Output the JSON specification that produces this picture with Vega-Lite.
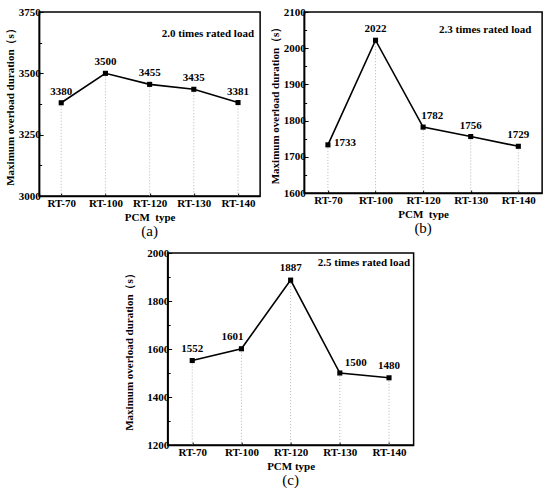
{
  "$schema": "https://vega.github.io/schema/vega-lite/v6.json",
  "padding": {"left": 3, "top": 5, "right": 4, "bottom": 2},
  "config": {
    "font": "Liberation Serif",
    "view": {"stroke": "black", "strokeWidth": 1.5},
    "axis": {
      "grid": false,
      "domainColor": "black",
      "domainWidth": 1.5,
      "tickColor": "black",
      "tickWidth": 1,
      "labelFont": "Liberation Serif",
      "labelFontWeight": "bold",
      "labelFontSize": 11,
      "labelColor": "black",
      "titleFont": "Liberation Serif",
      "titleFontWeight": "bold",
      "titleFontSize": 11,
      "titleColor": "black"
    },
    "axisX": {"labelAngle": 0, "tickSize": -3, "labelPadding": 4, "titlePadding": 3},
    "axisY": {"labelPadding": 3, "titlePadding": 3},
    "title": {"font": "Liberation Serif", "fontSize": 15, "fontWeight": "normal", "color": "black"},
    "text": {"font": "Liberation Serif", "fontWeight": "bold", "fontSize": 11, "color": "black"}
  },
  "data": {
    "values": [
      {"panel": "a", "type": "RT-70", "duration": 3380},
      {"panel": "a", "type": "RT-100", "duration": 3500},
      {"panel": "a", "type": "RT-120", "duration": 3455},
      {"panel": "a", "type": "RT-130", "duration": 3435},
      {"panel": "a", "type": "RT-140", "duration": 3381},
      {"panel": "b", "type": "RT-70", "duration": 1733},
      {"panel": "b", "type": "RT-100", "duration": 2022},
      {"panel": "b", "type": "RT-120", "duration": 1782},
      {"panel": "b", "type": "RT-130", "duration": 1756},
      {"panel": "b", "type": "RT-140", "duration": 1729},
      {"panel": "c", "type": "RT-70", "duration": 1552},
      {"panel": "c", "type": "RT-100", "duration": 1601},
      {"panel": "c", "type": "RT-120", "duration": 1887},
      {"panel": "c", "type": "RT-130", "duration": 1500},
      {"panel": "c", "type": "RT-140", "duration": 1480}
    ]
  },
  "spacing": 6,
  "center": true,
  "vconcat": [
    {
      "spacing": 7,
      "hconcat": [
        {
          "width": 221,
          "height": 184,
          "title": {"text": "(a)", "orient": "bottom", "offset": 2},
          "transform": [{"filter": "datum.panel === 'a'"}],
          "encoding": {
            "x": {
              "field": "type", "type": "ordinal",
              "sort": ["RT-70", "RT-100", "RT-120", "RT-130", "RT-140"],
              "scale": {"type": "point", "padding": 0.5},
              "axis": {"title": "PCM\u00a0\u00a0type"}
            },
            "y": {
              "field": "duration", "type": "quantitative",
              "scale": {"domain": [3000, 3750]},
              "axis": {
                "title": "Maximum overload duration（s）",
                "values": [3000, 3125, 3250, 3375, 3500, 3625, 3750],
                "labelExpr": "datum.value % 250 === 0 ? datum.label : ''",
                "format": "d",
                "tickSize": {"condition": {"test": "datum.value % 250 === 0", "value": -4}, "value": -2.5}
              }
            }
          },
          "layer": [
            {"mark": {"type": "rule", "color": "#b5b5b5", "strokeDash": [1, 2], "strokeWidth": 1}, "encoding": {"y2": {"datum": 3000}}},
            {"mark": {"type": "line", "color": "black", "strokeWidth": 1.6}},
            {"mark": {"type": "point", "shape": "square", "filled": true, "color": "black", "size": 26, "opacity": 1}},
            {"mark": {"type": "text", "dy": -11, "baseline": "middle"}, "encoding": {"text": {"field": "duration", "type": "quantitative", "format": "d"}}},
            {
              "transform": [{"filter": "datum.type === 'RT-140'"}],
              "mark": {"type": "text", "align": "right", "baseline": "middle", "dx": 16},
              "encoding": {"x": {"datum": "RT-140"}, "y": {"datum": 3660}, "text": {"value": "2.0 times rated load"}}
            }
          ]
        },
        {
          "width": 238,
          "height": 181,
          "title": {"text": "(b)", "orient": "bottom", "offset": 2},
          "transform": [{"filter": "datum.panel === 'b'"}],
          "encoding": {
            "x": {
              "field": "type", "type": "ordinal",
              "sort": ["RT-70", "RT-100", "RT-120", "RT-130", "RT-140"],
              "scale": {"type": "point", "padding": 0.5},
              "axis": {"title": "PCM\u00a0\u00a0type"}
            },
            "y": {
              "field": "duration", "type": "quantitative",
              "scale": {"domain": [1600, 2100]},
              "axis": {
                "title": "Maximum overload duration（s）",
                "values": [1600, 1650, 1700, 1750, 1800, 1850, 1900, 1950, 2000, 2050, 2100],
                "labelExpr": "datum.value % 100 === 0 ? datum.label : ''",
                "format": "d",
                "tickSize": {"condition": {"test": "datum.value % 100 === 0", "value": -4}, "value": -2.5}
              }
            }
          },
          "layer": [
            {"mark": {"type": "rule", "color": "#b5b5b5", "strokeDash": [1, 2], "strokeWidth": 1}, "encoding": {"y2": {"datum": 1600}}},
            {"mark": {"type": "line", "color": "black", "strokeWidth": 1.6}},
            {"mark": {"type": "point", "shape": "square", "filled": true, "color": "black", "size": 26, "opacity": 1}},
            {
              "transform": [{"filter": "datum.type === 'RT-100' || datum.type === 'RT-130' || datum.type === 'RT-140'"}],
              "mark": {"type": "text", "dy": -11, "baseline": "middle"},
              "encoding": {"text": {"field": "duration", "type": "quantitative", "format": "d"}}
            },
            {
              "transform": [{"filter": "datum.type === 'RT-120'"}],
              "mark": {"type": "text", "dy": -11, "dx": 9, "baseline": "middle"},
              "encoding": {"text": {"field": "duration", "type": "quantitative", "format": "d"}}
            },
            {
              "transform": [{"filter": "datum.type === 'RT-70'"}],
              "mark": {"type": "text", "dx": 6, "dy": -2, "align": "left", "baseline": "middle"},
              "encoding": {"text": {"field": "duration", "type": "quantitative", "format": "d"}}
            },
            {
              "transform": [{"filter": "datum.type === 'RT-140'"}],
              "mark": {"type": "text", "align": "right", "baseline": "middle", "dx": 13},
              "encoding": {"x": {"datum": "RT-140"}, "y": {"datum": 2050}, "text": {"value": "2.3 times rated load"}}
            }
          ]
        }
      ]
    },
    {
      "width": 246,
      "height": 192,
      "title": {"text": "(c)", "orient": "bottom", "offset": 2},
      "transform": [{"filter": "datum.panel === 'c'"}],
      "encoding": {
        "x": {
          "field": "type", "type": "ordinal",
          "sort": ["RT-70", "RT-100", "RT-120", "RT-130", "RT-140"],
          "scale": {"type": "point", "padding": 0.5},
          "axis": {"title": "PCM type"}
        },
        "y": {
          "field": "duration", "type": "quantitative",
          "scale": {"domain": [1200, 2000]},
          "axis": {
            "title": "Maximum overload duration（s）",
            "titlePadding": 12,
            "values": [1200, 1300, 1400, 1500, 1600, 1700, 1800, 1900, 2000],
            "labelExpr": "datum.value % 200 === 0 ? datum.label : ''",
            "format": "d",
            "tickSize": {"condition": {"test": "datum.value % 200 === 0", "value": -4}, "value": -2.5}
          }
        }
      },
      "layer": [
        {"mark": {"type": "rule", "color": "#b5b5b5", "strokeDash": [1, 2], "strokeWidth": 1}, "encoding": {"y2": {"datum": 1200}}},
        {"mark": {"type": "line", "color": "black", "strokeWidth": 1.6}},
        {"mark": {"type": "point", "shape": "square", "filled": true, "color": "black", "size": 26, "opacity": 1}},
        {
          "transform": [{"filter": "datum.type === 'RT-70' || datum.type === 'RT-120' || datum.type === 'RT-140'"}],
          "mark": {"type": "text", "dy": -12, "baseline": "middle"},
          "encoding": {"text": {"field": "duration", "type": "quantitative", "format": "d"}}
        },
        {
          "transform": [{"filter": "datum.type === 'RT-100'"}],
          "mark": {"type": "text", "dy": -12, "dx": -9, "baseline": "middle"},
          "encoding": {"text": {"field": "duration", "type": "quantitative", "format": "d"}}
        },
        {
          "transform": [{"filter": "datum.type === 'RT-130'"}],
          "mark": {"type": "text", "dy": -10, "dx": 16, "baseline": "middle"},
          "encoding": {"text": {"field": "duration", "type": "quantitative", "format": "d"}}
        },
        {
          "transform": [{"filter": "datum.type === 'RT-140'"}],
          "mark": {"type": "text", "align": "right", "baseline": "middle", "dx": 21},
          "encoding": {"x": {"datum": "RT-140"}, "y": {"datum": 1958}, "text": {"value": "2.5 times rated load"}}
        }
      ]
    }
  ]
}
